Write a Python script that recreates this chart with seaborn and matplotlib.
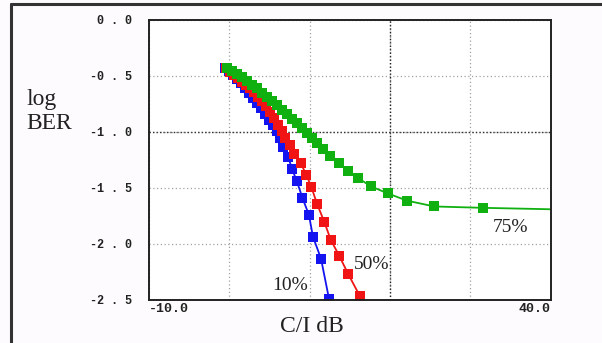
import matplotlib
matplotlib.use("Agg")
import matplotlib.pyplot as plt
from matplotlib.lines import Line2D
import seaborn as sns
import pandas as pd

# BER vs C/I curves
ci_10 = [-0.5, -0.1, 0.4, 0.9, 1.4, 1.9, 2.4, 2.9, 3.4, 3.9, 4.4, 4.9, 5.4, 5.9,
         6.3, 6.7, 7.3, 7.8, 8.4, 9.1, 9.9, 10.4, 11.4, 12.4]
ber_10 = [-0.425, -0.455, -0.49, -0.525, -0.565, -0.605, -0.65, -0.695, -0.74, -0.79,
          -0.84, -0.89, -0.94, -0.99, -1.05, -1.13, -1.22, -1.33, -1.44, -1.59,
          -1.74, -1.935, -2.13, -2.49]

ci_50 = [-0.4, 0.1, 0.6, 1.1, 1.6, 2.1, 2.6, 3.1, 3.6, 4.1, 4.6, 5.1, 5.6, 6.1,
         6.5, 6.9, 7.5, 8.1, 8.9, 9.55, 10.2, 10.9, 11.8, 12.6, 13.7, 14.8, 16.2]
ber_50 = [-0.43, -0.46, -0.49, -0.52, -0.55, -0.58, -0.61, -0.645, -0.685, -0.725,
          -0.77, -0.82, -0.875, -0.935, -0.99, -1.05, -1.12, -1.2, -1.28, -1.38,
          -1.49, -1.64, -1.8, -1.96, -2.11, -2.27, -2.46]

ci_75 = [-0.3, 0.28, 0.9, 1.53, 2.15, 2.77, 3.4, 4.02, 4.64, 5.26, 5.88, 6.51,
         7.13, 7.75, 8.37, 9.0, 9.61, 10.24, 10.86, 11.6, 12.5, 13.6, 14.8, 16.0,
         17.6, 19.7, 22.1, 25.5, 31.5, 40.0]
ber_75 = [-0.43, -0.455, -0.48, -0.51, -0.545, -0.58, -0.61, -0.65, -0.685, -0.72,
          -0.76, -0.80, -0.84, -0.88, -0.92, -0.96, -1.006, -1.05, -1.10, -1.15,
          -1.21, -1.28, -1.345, -1.41, -1.485, -1.548, -1.613, -1.665, -1.677, -1.69]

labels = ["10%", "50%", "75%"]
label_x = [7.6, 17.7, 35.0]
label_y = [-2.37, -2.18, -1.85]

x_ticks = [-10, 0, 10, 20, 30, 40]
x_ticklabels = ["-10.0", "", "", "", "", "40.0"]
y_ticks = [0, -0.5, -1.0, -1.5, -2.0, -2.5]
y_ticklabels = ["0 . 0", "-0 . 5", "-1 . 0", "-1 . 5", "-2 . 0", "-2 . 5"]

sns.set_theme(style="white")
plt.rcParams["font.family"] = ["DejaVu Sans"]

fig = plt.figure(figsize=(6.02, 3.43), dpi=100)
fig.patch.set_facecolor("#fdfbfd")
ax = fig.add_axes([0.2475, 0.1254, 0.6675, 0.8163])
ax.set_facecolor("white")

curves = [
    (ci_10, ber_10, "#1414f0", None),
    (ci_50, ber_50, "#f01414", None),
    (ci_75, ber_75, "#10b010", list(range(len(ci_75) - 1))),
]
for xs, ys, col, mev in curves:
    df = pd.DataFrame({"ci": xs, "ber": ys})
    sns.lineplot(data=df, x="ci", y="ber", ax=ax, color=col, lw=1.3,
                 marker="s", markersize=7.0, markeredgewidth=0,
                 markevery=mev, sort=False, estimator=None)

ax.set_xlim(-10, 40)
ax.set_ylim(-2.5, 0)
ax.set_xticks(x_ticks)
ax.set_xticklabels(x_ticklabels)
ax.set_yticks(y_ticks)
ax.set_yticklabels(y_ticklabels)
for t in ax.get_xticklabels():
    t.set_family("Liberation Mono")
    t.set_fontweight("bold")
    t.set_fontsize(9.5)
    t.set_color("#222222")
for t in ax.get_yticklabels():
    t.set_family("Liberation Mono")
    t.set_fontweight("bold")
    t.set_fontsize(8.5)
    t.set_color("#222222")
xl = ax.get_xticklabels()
xl[0].set_ha("left")
xl[-1].set_ha("right")
ax.tick_params(axis="x", length=3, pad=2, direction="in", color="#333333")
ax.tick_params(axis="y", length=3, pad=9, direction="out", color="#333333")
ax.set_xlabel("")
ax.set_ylabel("")

ax.grid(True, ls=(0, (1, 2)), color="#a0a0a0", lw=0.9)
ax.axvline(20, ls=(0, (1, 1.5)), color="#222222", lw=1.0, zorder=1)
ax.axhline(-1.0, ls=(0, (1, 1.5)), color="#333333", lw=1.0, zorder=1)
ax.set_axisbelow(True)

for s in ax.spines.values():
    s.set_color("#222222")
    s.set_linewidth(1.4)
    s.set_visible(True)

for lab, lx, ly in zip(labels, label_x, label_y):
    ax.text(lx, ly, lab, family="Liberation Serif", fontsize=14,
            ha="center", va="center", color="#222222")

fig.text(0.044, 0.675, "log\nBER", family="Liberation Serif", fontsize=17,
         ha="left", va="center", linespacing=1.2, color="#222222")
fig.text(0.518, 0.048, "C/I dB", family="Liberation Serif", fontsize=17,
         ha="center", va="center", color="#222222")

# outer frame, top and left edges only
fig.add_artist(Line2D([0.019, 0.019], [0.0, 0.988], transform=fig.transFigure,
                      color="#333333", lw=2.2))
fig.add_artist(Line2D([0.019, 1.0], [0.988, 0.988], transform=fig.transFigure,
                      color="#333333", lw=2.2))

fig.savefig("out.png", dpi=100, facecolor=fig.get_facecolor())
